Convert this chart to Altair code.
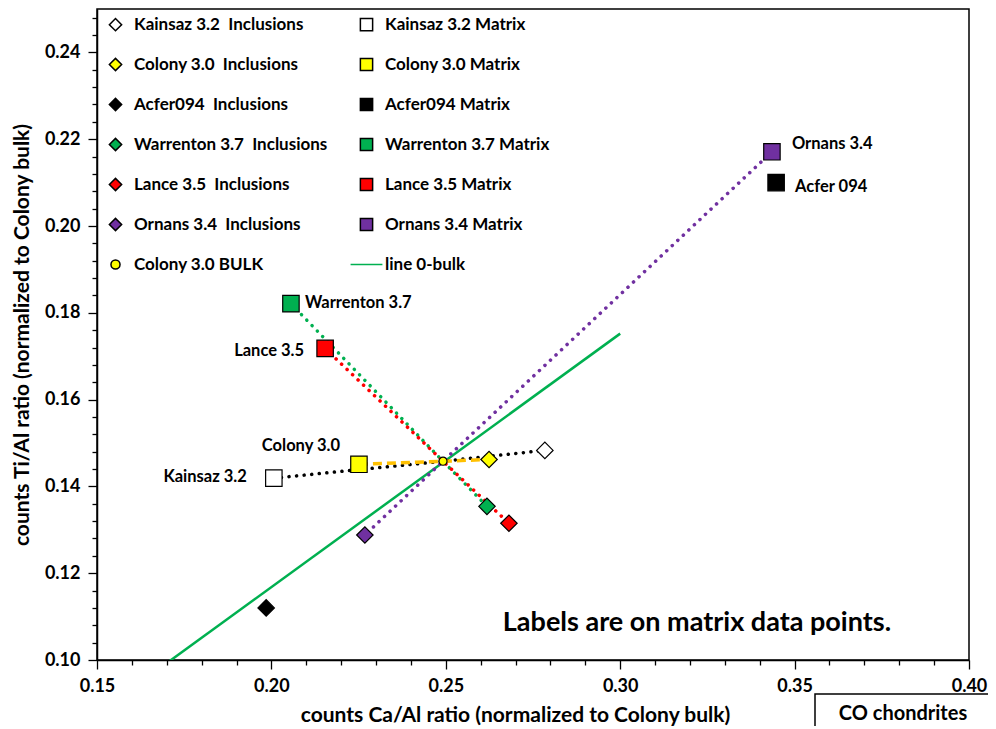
import altair as alt
import pandas as pd

# ---------------- data ----------------
meteorites = ["Kainsaz 3.2", "Colony 3.0", "Acfer094", "Warrenton 3.7", "Lance 3.5", "Ornans 3.4"]
point_labels = ["Kainsaz 3.2", "Colony 3.0", "Acfer 094", "Warrenton 3.7", "Lance 3.5", "Ornans 3.4"]
incl_ca = [0.2784, 0.2624, 0.1985, 0.2618, 0.2681, 0.2268]
incl_ti = [0.1483, 0.1462, 0.1120, 0.1354, 0.1315, 0.1288]
matrix_ca = [0.2007, 0.2251, 0.3447, 0.2056, 0.2154, 0.3435]
matrix_ti = [0.1419, 0.1451, 0.2100, 0.1821, 0.1718, 0.2171]
bulk_ca = [0.2492]
bulk_ti = [0.1458]
line0_ca = [0.0, 0.30]
line0_ti = [0.0, 0.1752]
note_ca = [0.3220]
note_ti = [0.1085]
note_text = ["Labels are on matrix data points."]

NB = "\u00a0 "  # double space kept visible
inclusion_names = [f"{m}{NB}Inclusions" for m in meteorites]
matrix_names = [f"{m} Matrix" for m in meteorites]
# legend filled column by column: inclusions + bulk, then matrices + line
legend_entries = inclusion_names + ["Colony 3.0 BULK"] + matrix_names + ["line 0-bulk"]
met_colors = ["white", "#ffff00", "black", "#00b050", "#ff0000", "#7030a0"]
fill_colors = met_colors + ["#ffff00"] + met_colors + ["#00b050"]
stroke_colors = ["black"] * 13 + ["#00b050"]
SMALL_CIRCLE = "M-0.74,0A0.74,0.74 0 1,0 0.74,0A0.74,0.74 0 1,0 -0.74,0Z"
LONG_LINE = "M-2.6,0H2.6"
shapes = ["diamond"] * 6 + [SMALL_CIRCLE] + ["square"] * 6 + [LONG_LINE]

x_ticks = [round(0.15 + 0.01 * i, 2) for i in range(26)]
y_ticks = [round(0.10 + 0.004 * i, 3) for i in range(38)]

FONT = "Lato"

# ---------------- tables ----------------
rows = []
for i, m in enumerate(meteorites):
    rows.append({"x": incl_ca[i], "y": incl_ti[i], "series": inclusion_names[i]})
    rows.append({"x": matrix_ca[i], "y": matrix_ti[i], "series": matrix_names[i]})
markers_df = pd.DataFrame(rows)
bulk_df = pd.DataFrame({"x": bulk_ca, "y": bulk_ti, "series": ["Colony 3.0 BULK"]})

conn_rows = []
for i, m in enumerate(meteorites):
    seq = [(matrix_ca[i], matrix_ti[i]), (bulk_ca[0], bulk_ti[0]), (incl_ca[i], incl_ti[i])]
    for k, (a, b) in enumerate(seq):
        conn_rows.append({"x": a, "y": b, "met": m, "order": k})
conn_df = pd.DataFrame(conn_rows)

line0_df = pd.DataFrame({"x": line0_ca, "y": line0_ti})
labels_df = pd.DataFrame({"x": matrix_ca, "y": matrix_ti, "label": point_labels, "met": meteorites})
note_df = pd.DataFrame({"x": note_ca, "y": note_ti, "text": note_text})

# ---------------- scales / axes ----------------
xmajor = "abs(datum.value*20 - round(datum.value*20)) < 0.001"
ymajor = "abs(datum.value*50 - round(datum.value*50)) < 0.001"

xaxis = alt.Axis(
    values=x_ticks, grid=False, labelOverlap=False, labelFlush=False, labelBound=False,
    labelExpr=f"{xmajor} ? format(datum.value, '.2f') : ''",
    tickSize={"condition": {"test": xmajor, "value": 9}, "value": 5},
    tickColor="black", tickWidth=1.3, domainColor="black", domainWidth=1.5,
    labelFont=FONT, labelFontSize=18, labelFontWeight="bold", labelColor="black",
    labelPadding=8,
    titleFont=FONT, titleFontSize=21, titleFontWeight="bold", titleColor="black",
    titlePadding=9, titleX=418,
)
yaxis = alt.Axis(
    values=y_ticks, grid=False, labelOverlap=False, labelFlush=False, labelBound=False,
    labelExpr=f"{ymajor} ? format(datum.value, '.2f') : ''",
    tickSize={"condition": {"test": ymajor, "value": 9}, "value": 5},
    tickColor="black", tickWidth=1.3, domainColor="black", domainWidth=1.5,
    labelFont=FONT, labelFontSize=18, labelFontWeight="bold", labelColor="black",
    labelPadding=8,
    titleFont=FONT, titleFontSize=21, titleFontWeight="bold", titleColor="black",
    titlePadding=12,
)
xscale = alt.Scale(domain=[0.15, 0.40], nice=False, zero=False)
yscale = alt.Scale(domain=[0.10, 0.25], nice=False, zero=False)
X = alt.X("x:Q", scale=xscale, axis=xaxis, title="counts Ca/Al ratio (normalized to Colony bulk)")
Y = alt.Y("y:Q", scale=yscale, axis=yaxis, title="counts Ti/Al ratio (normalized to Colony bulk)")

# ---------------- layers ----------------
line0 = alt.Chart(line0_df).mark_line(color="#00b050", strokeWidth=2.5, clip=True).encode(x=X, y=Y)

conn_styles = {
    "Kainsaz 3.2": ("black", [0.1, 7.5]),
    "Colony 3.0": ("#ffc000", [9, 5]),
    "Warrenton 3.7": ("#00b050", [0.1, 7.5]),
    "Lance 3.5": ("#ff0000", [0.1, 7.5]),
    "Ornans 3.4": ("#7030a0", [0.1, 7.5]),
}
conn_layers = []
for m, (col, dash) in conn_styles.items():
    conn_layers.append(
        alt.Chart(conn_df).transform_filter(alt.datum.met == m)
        .mark_line(color=col, strokeWidth=3.5, strokeDash=dash, strokeCap="round" if dash[0] < 1 else "butt")
        .encode(x=X, y=Y, order="order:Q")
    )

legend = alt.Legend(
    orient="none", legendX=10, legendY=7, columns=2, title=None, padding=0,
    labelFont=FONT, labelFontSize=17, labelFontWeight="bold", labelColor="black",
    labelLimit=400, symbolSize=150, symbolOpacity=1, symbolStrokeWidth=1.5,
    rowPadding=21, columnPadding=19, labelOffset=10,
)
FILL = alt.Fill("series:N", scale=alt.Scale(domain=legend_entries, range=fill_colors), legend=legend)
STROKE = alt.Stroke("series:N", scale=alt.Scale(domain=legend_entries, range=stroke_colors), legend=legend)
SHAPE = alt.Shape("series:N", scale=alt.Scale(domain=legend_entries, range=shapes), legend=legend)

markers = alt.Chart(markers_df).mark_point(opacity=1, fillOpacity=1, strokeWidth=1.2, size=270).encode(
    x=X, y=Y, fill=FILL, stroke=STROKE, shape=SHAPE)
bulk = alt.Chart(bulk_df).mark_point(opacity=1, fillOpacity=1, strokeWidth=1.2, size=118).encode(
    x=X, y=Y, fill=FILL, stroke=STROKE, shape=SHAPE)

label_styles = {
    "Kainsaz 3.2": ("right", -27, -1),
    "Colony 3.0": ("center", -58, -18),
    "Acfer094": ("left", 19, 4),
    "Warrenton 3.7": ("left", 14, -1),
    "Lance 3.5": ("right", -21, 3),
    "Ornans 3.4": ("left", 20, -8),
}
label_layers = []
for m, (al, dx, dy) in label_styles.items():
    label_layers.append(
        alt.Chart(labels_df).transform_filter(alt.datum.met == m)
        .mark_text(align=al, dx=dx, dy=dy, baseline="middle", font=FONT, fontSize=16.5,
                   fontWeight="bold", color="black")
        .encode(x=X, y=Y, text="label:N")
    )

note = alt.Chart(note_df).mark_text(font=FONT, fontSize=27, fontWeight="bold", color="black",
                                     baseline="middle", align="center").encode(x=X, y=Y, text="text:N")

one = pd.DataFrame({"t": ["CO chondrites"]})
co_box = alt.Chart(one).mark_rect(fill="white", stroke="black", strokeWidth=1.5).encode(
    x=alt.value(718), x2=alt.value(910), y=alt.value(685), y2=alt.value(760))
co_text = alt.Chart(one).mark_text(font=FONT, fontSize=20, fontWeight="bold", color="black",
                                   baseline="middle", align="center").encode(
    x=alt.value(806), y=alt.value(705), text="t:N")

chart = alt.layer(line0, *conn_layers, markers, bulk, *label_layers, note, co_box, co_text).properties(
    width=872, height=651,
    padding={"left": 89, "top": 1, "right": 19, "bottom": 66},
    autosize=alt.AutoSizeParams(type="none"),
).configure_view(stroke="black", strokeWidth=1.5)

chart.save("out.html", embed_options={"renderer": "svg", "actions": False})
